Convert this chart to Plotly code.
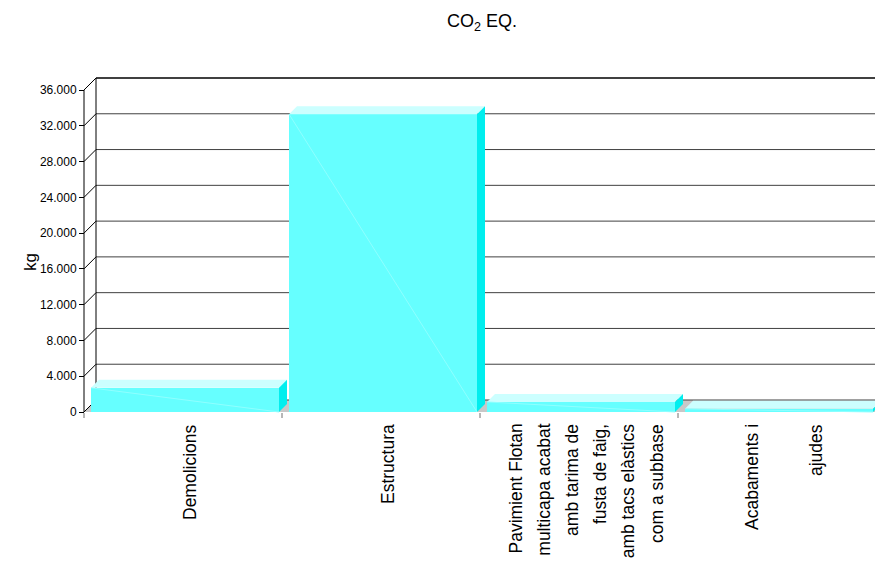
import plotly.graph_objects as go

# ---- data ----
categories = ["Demolicions", "Estructura",
              "Pavimient Flotan multicapa acabat amb tarima de fusta de faig, amb tacs elàstics com a subbase",
              "Acabaments i ajudes"]
label_lines = [["Demolicions"], ["Estructura"],
               ["Pavimient Flotan", "multicapa acabat", "amb tarima de", "fusta de faig,",
                "amb tacs elàstics", "com a subbase"],
               ["Acabaments i", "ajudes"]]
values = [2700, 33300, 1120, 350]
y_ticks = [0, 4000, 8000, 12000, 16000, 20000, 24000, 28000, 32000, 36000]
title_text = "CO<sub>2</sub> EQ."
y_title = "kg"

# ---- geometry (pixels -> data) ----
OFF = 8                        # page body margin compensation
W, H = 883, 564
ml, mr, mt, mb = 60 - OFF, 0, 70 - OFF, 564 - (424 - OFF)
px_cat = 198.0                 # pixels per category
x_front = 84.0 - OFF           # pixel of category edge -0.5
y_zero = 412.0 - OFF           # pixel of value 0 on front plane
k = 322.0 / 36000.0            # pixels per unit value
plot_w = W - ml - mr
plot_h = H - mt - mb
xr = [-0.5 - (x_front - ml) / px_cat, -0.5 + (W - mr - x_front) / px_cat]
yr = [-(H - mb - y_zero) / k, (y_zero - mt) / k]

wall_dx = 12 / px_cat
wall_dy = 12 / k
bar_dx = 8 / px_cat
bar_dy = 8 / k
bar_left = 7 / px_cat
bar_w = 188 / px_cat
n = len(categories)
xs = list(range(n))

fig = go.Figure()

# front faces
fig.add_trace(go.Bar(x=xs, y=values, width=bar_w, offset=-0.5 + bar_left,
                     marker=dict(color="#66FFFF", line=dict(width=0)),
                     hoverinfo="skip", showlegend=False))

# top and side faces
top_x, top_y, side_x, side_y, diag_x, diag_y = [], [], [], [], [], []
for i, v in enumerate(values):
    x0 = i - 0.5 + bar_left
    x1 = x0 + bar_w
    top_x += [x0, x1, x1 + bar_dx, x0 + bar_dx, x0, None]
    top_y += [v, v, v + bar_dy, v + bar_dy, v, None]
    side_x += [x1, x1, x1 + bar_dx, x1 + bar_dx, x1, None]
    side_y += [0, v, v + bar_dy, bar_dy, 0, None]
    diag_x += [x0, x1, None]
    diag_y += [v, 0, None]
fig.add_trace(go.Scatter(x=top_x, y=top_y, mode="lines", fill="toself",
                         fillcolor="#CCFFFF", line=dict(width=0, color="#CCFFFF"),
                         hoverinfo="skip", showlegend=False))
fig.add_trace(go.Scatter(x=side_x, y=side_y, mode="lines", fill="toself",
                         fillcolor="#00EEEE", line=dict(width=0, color="#00EEEE"),
                         hoverinfo="skip", showlegend=False))
fig.add_trace(go.Scatter(x=diag_x, y=diag_y, mode="lines",
                         line=dict(width=1, color="#8FFFFF"),
                         hoverinfo="skip", showlegend=False))

shapes = []
# floor
x_end = n - 0.5
shapes.append(dict(type="path", xref="x", yref="y", layer="below",
                   path=f"M {-0.5},0 L {x_end},0 L {x_end + wall_dx},{wall_dy} L {-0.5 + wall_dx},{wall_dy} Z",
                   fillcolor="#C8C8C8", line=dict(width=0)))
# back wall gridlines
for v in y_ticks:
    top = v == y_ticks[-1]
    shapes.append(dict(type="line", xref="x", yref="y", layer="below",
                       x0=-0.5 + wall_dx, x1=xr[1], y0=v + wall_dy, y1=v + wall_dy,
                       line=dict(color="#404040", width=2 if top else 1)))
    shapes.append(dict(type="line", xref="x", yref="y", layer="below",
                       x0=-0.5, x1=-0.5 + wall_dx, y0=v, y1=v + wall_dy,
                       line=dict(color="#000000", width=1)))
# back wall left edge
shapes.append(dict(type="line", xref="x", yref="y", layer="below",
                   x0=-0.5 + wall_dx, x1=-0.5 + wall_dx, y0=wall_dy, y1=y_ticks[-1] + wall_dy,
                   line=dict(color="#000000", width=1)))
# front value axis
shapes.append(dict(type="line", xref="x", yref="y", layer="above",
                   x0=-0.5, x1=-0.5, y0=0, y1=y_ticks[-1],
                   line=dict(color="#000000", width=1)))
# category ticks
for i in range(n + 1):
    shapes.append(dict(type="line", xref="x", yref="y", layer="above",
                       x0=i - 0.5, x1=i - 0.5, y0=-1 / k, y1=-6 / k,
                       line=dict(color="#707070", width=1)))

annotations = []
label_offset = 7 / px_cat
spacing = {1: 0, 2: 64 / px_cat, 6: 28.2 / px_cat}
label_top = (H - mb - (422 - OFF)) / plot_h
for i, lines in enumerate(label_lines):
    m = len(lines)
    sp = spacing.get(m, 28.2 / px_cat)
    for j, t in enumerate(lines):
        xc = i + label_offset + (j - (m - 1) / 2) * sp
        annotations.append(dict(x=xc, xref="x", y=label_top, yref="paper",
                                text=t, textangle=-90, showarrow=False,
                                xanchor="center", yanchor="top",
                                font=dict(size=17.5, color="#000000")))
annotations.append(dict(x=(30 - OFF - ml) / plot_w, xref="paper",
                        y=(H - mb - (262 - OFF)) / plot_h, yref="paper",
                        text=y_title, textangle=-90, showarrow=False,
                        xanchor="center", yanchor="middle",
                        font=dict(size=17, color="#000000")))

fig.update_layout(
    width=W, height=H,
    margin=dict(l=ml, r=mr, t=mt, b=mb, pad=0),
    paper_bgcolor="white", plot_bgcolor="white",
    font=dict(family="Liberation Sans, Arial, sans-serif", color="#000000"),
    separators=",.",
    title=dict(text=title_text, xref="container", yref="container",
               x=(482 - OFF) / W, y=1 - (21 - OFF) / H, xanchor="center", yanchor="middle",
               font=dict(size=18, color="#000000")),
    xaxis=dict(range=xr, visible=False, showgrid=False, zeroline=False, fixedrange=True),
    yaxis=dict(range=yr, anchor="free", position=(x_front - ml) / plot_w,
               tickvals=y_ticks, tickformat=",", ticks="outside", ticklen=5,
               tickcolor="#000000", showline=False, showgrid=False, zeroline=False,
               tickfont=dict(size=12, color="#000000")),
    shapes=shapes, annotations=annotations, bargap=0, showlegend=False,
)

fig.write_html("out.html")
